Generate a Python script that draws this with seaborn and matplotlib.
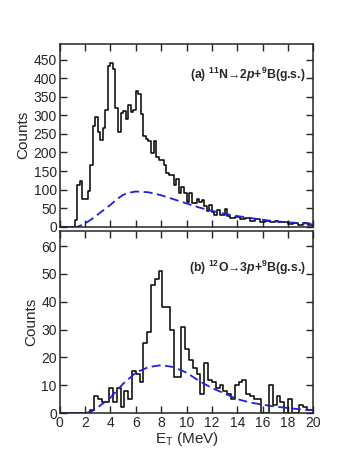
# Two-panel E_T spectra with phase-space curves

import numpy as np
import pandas as pd
import matplotlib
matplotlib.use("Agg")
import matplotlib.pyplot as plt
import seaborn as sns

# (a) 11N -> 2p + 9B(g.s.), 0.2 MeV bins
top_bin_width = 0.2
top_counts = [
    0, 0, 0, 0, 0, 0, 18, 112, 122, 74,
    74, 97, 165, 272, 296, 256, 234, 267, 315, 432,
    440, 425, 320, 255, 305, 312, 290, 328, 310, 315,
    365, 358, 303, 243, 236, 230, 199, 230, 187, 180,
    180, 165, 144, 140, 140, 113, 130, 90, 108, 90,
    68, 90, 63, 63, 76, 68, 72, 56, 43, 58,
    40, 32, 45, 32, 32, 47, 29, 23, 23, 27,
    27, 20, 20, 23, 23, 16, 16, 20, 20, 14,
    14, 16, 16, 12, 12, 16, 12, 12, 12, 12,
    7, 7, 9, 9, 5, 5, 9, 9, 5, 5,
]
top_curve_x = [0, 1, 1.4, 2, 2.5, 3, 3.5, 4, 4.5, 5, 5.5, 6, 7, 8, 9, 10,
               11, 12, 13, 14, 15, 16, 17, 18, 19, 20]
top_curve_y = [0, 0, 0, 9, 20, 33, 46, 59, 74, 86, 92, 95, 93, 85, 74, 63,
               52, 43, 35, 29, 24, 19, 15, 12, 10, 8]

# (b) 12O -> 3p + 9B(g.s.), 0.3 MeV bins
bot_bin_width = 0.3
bot_counts = [
    0, 0, 0, 0, 0, 0, 0, 0, 1, 6,
    5, 4, 4, 9, 4, 9, 2, 8, 5, 15,
    14, 11, 25, 29, 46, 48, 51, 38, 38, 30,
    13, 13, 31, 23, 19, 16, 14, 7, 18, 12,
    11, 9, 10, 8, 7, 5, 10, 11, 12, 7,
    6, 5, 5, 0, 0, 10, 3, 6, 4, 0,
    5, 0, 0, 3, 2, 1, 1,
]
bot_curve_x = [0, 1, 2, 2.5, 3, 4, 5, 6, 7, 8, 9, 10, 11, 12, 13, 14,
               15, 16, 17, 18, 19, 20]
bot_curve_y = [0, 0, 0, 0.5, 2, 5.5, 10.5, 14.5, 16.5, 17.2, 16.5, 14.5,
               11.5, 9, 7, 5, 3.8, 3, 2.3, 1.8, 1.3, 1]

panel_labels = [
    r"(a) $^{\mathbf{11}}$N→2$\mathbfit{p}$+$^{\mathbf{9}}$B(g.s.)",
    r"(b) $^{\mathbf{12}}$O→3$\mathbfit{p}$+$^{\mathbf{9}}$B(g.s.)",
]

sns.set_style("ticks")
plt.rcParams["font.family"] = ["Liberation Sans", "DejaVu Sans"]
plt.rcParams["mathtext.fontset"] = "custom"
plt.rcParams["mathtext.rm"] = "Liberation Sans"
plt.rcParams["mathtext.it"] = "Liberation Sans:italic"
plt.rcParams["mathtext.bf"] = "Liberation Sans:bold"
plt.rcParams["mathtext.bfit"] = "Liberation Sans:italic:bold"


def make_hist_frame(counts, width):
    centers = (np.arange(len(counts)) + 0.5) * width
    return pd.DataFrame({"E": centers, "n": np.asarray(counts, dtype=float)})


fig = plt.figure(figsize=(3.57, 4.62), dpi=100)
ax_top = fig.add_axes([0.167, 0.509, 0.711, 0.396])
ax_bot = fig.add_axes([0.167, 0.106, 0.711, 0.394])

panels = [
    (ax_top, top_counts, top_bin_width, top_curve_x, top_curve_y, 492, 50,
     panel_labels[0], 0.83),
    (ax_bot, bot_counts, bot_bin_width, bot_curve_x, bot_curve_y, 65.4, 10,
     panel_labels[1], 0.80),
]

for ax, counts, width, cx, cy, ymax, ystep, label, ly in panels:
    df = make_hist_frame(counts, width)
    sns.histplot(data=df, x="E", weights="n", binwidth=width,
                 binrange=(0, len(counts) * width), element="step",
                 fill=False, color="black", linewidth=1.1, ax=ax)
    sns.lineplot(x=cx, y=cy, color="#1f1fe0", linewidth=1.3, ax=ax)
    ax.lines[-1].set_dashes([5, 2.5])
    ax.set_xlim(0, 20)
    ax.set_ylim(0, ymax)
    ax.set_xticks(np.arange(0, 21, 2))
    ax.set_yticks(np.arange(0, ymax, ystep))
    ax.tick_params(direction="in", top=True, right=True, length=5,
                   width=1, labelsize=10, pad=2)
    for s in ax.spines.values():
        s.set_linewidth(1.1)
    ax.set_ylabel("Counts", fontsize=11, labelpad=2)
    ax.text(0.97, ly, label, transform=ax.transAxes, ha="right",
            va="center", fontsize=8.8, fontweight="bold")

ax_top.set_xlabel("")
ax_top.tick_params(labelbottom=False)
ax_bot.set_xlabel(r"E$_{\mathrm{T}}$ (MeV)", fontsize=11, labelpad=0)

fig.savefig("out.png", dpi=100)
